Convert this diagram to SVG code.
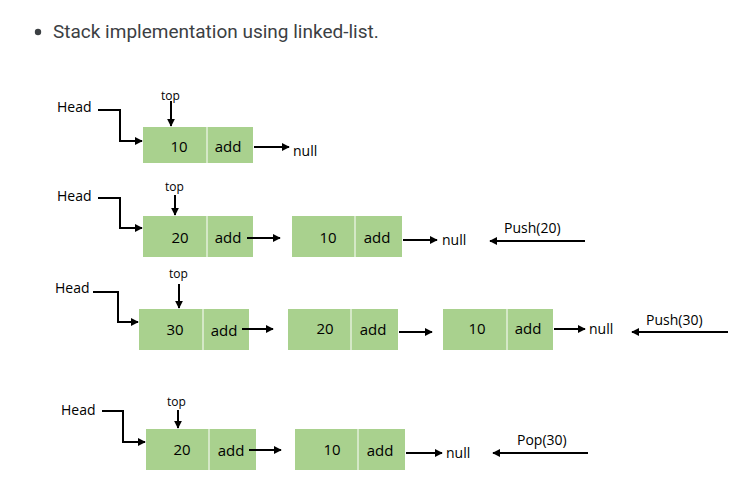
<svg xmlns="http://www.w3.org/2000/svg" width="743" height="486" viewBox="0 0 743 486">
<style>
.title{font-family:Roboto,"Liberation Sans",sans-serif;font-size:19px;fill:#3c4043}
.t{font-family:"Open Sans","Liberation Sans",sans-serif;fill:#000}
.lbl{font-size:14px}
.top{font-size:12px}
.val{font-size:15px;text-anchor:middle}
.box{fill:#a9d18e}
.div{stroke:#ffffff;stroke-width:1}
.ln{fill:none;stroke:#000;stroke-width:2}
</style>
<defs>
<marker id="ah" viewBox="0 0 10 10" refX="9" refY="5" markerWidth="4" markerHeight="4" orient="auto" markerUnits="strokeWidth">
<path d="M0,0 L10,5 L0,10 z" fill="#000"/>
</marker>
</defs>
<rect width="743" height="486" fill="#fff"/>
<circle cx="38" cy="32" r="3.2" fill="#3c4043"/>
<text class="title" x="53" y="38">Stack implementation using linked-list.</text>

<g id="row1">
<g id="r1n1"><rect class="box" x="143" y="127" width="110" height="36"/><line class="div" x1="207" y1="127" x2="207" y2="163"/><text class="t val" x="179" y="152">10</text><text class="t val" x="228" y="152">add</text></g>
<g id="r1head"><text class="t lbl" x="57" y="112">Head</text></g>
<g id="r1top"><text class="t top" x="161" y="100">top</text></g>
<g id="r1null"><text class="t lbl" x="293" y="156">null</text></g>
</g>

<g id="row2">
<g id="r2n1"><rect class="box" x="143" y="216" width="110" height="41"/><line class="div" x1="207" y1="216" x2="207" y2="257"/><text class="t val" x="180" y="243">20</text><text class="t val" x="228" y="243">add</text></g>
<g id="r2n2"><rect class="box" x="292" y="216" width="110" height="41"/><line class="div" x1="355" y1="216" x2="355" y2="257"/><text class="t val" x="328" y="243">10</text><text class="t val" x="377" y="243">add</text></g>
<g id="r2head"><text class="t lbl" x="57" y="201">Head</text></g>
<g id="r2top"><text class="t top" x="165" y="191">top</text></g>
<g id="r2null"><text class="t lbl" x="442" y="245">null</text></g>
<g id="r2op"><text class="t lbl" x="504" y="233" font-size="13">Push(20)</text></g>
</g>

<g id="row3">
<g id="r3n1"><rect class="box" x="139" y="309" width="110" height="41"/><line class="div" x1="203" y1="309" x2="203" y2="350"/><text class="t val" x="175" y="335">30</text><text class="t val" x="224" y="336">add</text></g>
<g id="r3n2"><rect class="box" x="288" y="309" width="110" height="41"/><line class="div" x1="351" y1="309" x2="351" y2="350"/><text class="t val" x="325" y="334">20</text><text class="t val" x="373" y="335">add</text></g>
<g id="r3n3"><rect class="box" x="443" y="309" width="110" height="41"/><line class="div" x1="507" y1="309" x2="507" y2="350"/><text class="t val" x="477" y="334">10</text><text class="t val" x="528" y="334">add</text></g>
<g id="r3head"><text class="t lbl" x="55" y="293">Head</text></g>
<g id="r3top"><text class="t top" x="169" y="278">top</text></g>
<g id="r3null"><text class="t lbl" x="589" y="334">null</text></g>
<g id="r3op"><text class="t lbl" x="646" y="325" font-size="13">Push(30)</text></g>
</g>

<g id="row4">
<g id="r4n1"><rect class="box" x="146" y="429" width="110" height="41"/><line class="div" x1="209" y1="429" x2="209" y2="470"/><text class="t val" x="182" y="455">20</text><text class="t val" x="231" y="456">add</text></g>
<g id="r4n2"><rect class="box" x="295" y="429" width="110" height="41"/><line class="div" x1="358" y1="429" x2="358" y2="470"/><text class="t val" x="332" y="455">10</text><text class="t val" x="380" y="456">add</text></g>
<g id="r4head"><text class="t lbl" x="61" y="415">Head</text></g>
<g id="r4top"><text class="t top" x="167" y="406">top</text></g>
<g id="r4null"><text class="t lbl" x="446" y="458">null</text></g>
<g id="r4op"><text class="t lbl" x="517" y="445" font-size="13">Pop(30)</text></g>
</g>

<g id="connectors">
<polyline class="ln" points="98,110 120,110 120,141 142,141" marker-end="url(#ah)"/>
<line class="ln" x1="171" y1="101" x2="171" y2="126" marker-end="url(#ah)"/>
<line class="ln" x1="254" y1="147" x2="289" y2="147" marker-end="url(#ah)"/>

<polyline class="ln" points="98,198 120,198 120,228 142,228" marker-end="url(#ah)"/>
<line class="ln" x1="175" y1="195" x2="175" y2="215" marker-end="url(#ah)"/>
<line class="ln" x1="247" y1="238" x2="280" y2="238" marker-end="url(#ah)"/>
<line class="ln" x1="403" y1="240" x2="437" y2="240" marker-end="url(#ah)"/>
<line class="ln" x1="585" y1="241" x2="490" y2="241" marker-end="url(#ah)"/>

<polyline class="ln" points="93,292 118,292 118,322 138,322" marker-end="url(#ah)"/>
<line class="ln" x1="179" y1="284" x2="179" y2="308" marker-end="url(#ah)"/>
<line class="ln" x1="242" y1="329" x2="273" y2="329" marker-end="url(#ah)"/>
<line class="ln" x1="399" y1="332" x2="432" y2="332" marker-end="url(#ah)"/>
<line class="ln" x1="554" y1="329" x2="585" y2="329" marker-end="url(#ah)"/>
<line class="ln" x1="728" y1="332" x2="632" y2="332" marker-end="url(#ah)"/>

<polyline class="ln" points="102,411 123,411 123,442 145,442" marker-end="url(#ah)"/>
<line class="ln" x1="178" y1="410" x2="178" y2="428" marker-end="url(#ah)"/>
<line class="ln" x1="249" y1="450" x2="281" y2="450" marker-end="url(#ah)"/>
<line class="ln" x1="406" y1="453" x2="442" y2="453" marker-end="url(#ah)"/>
<line class="ln" x1="588" y1="453" x2="493" y2="453" marker-end="url(#ah)"/>
</g>
</svg>
